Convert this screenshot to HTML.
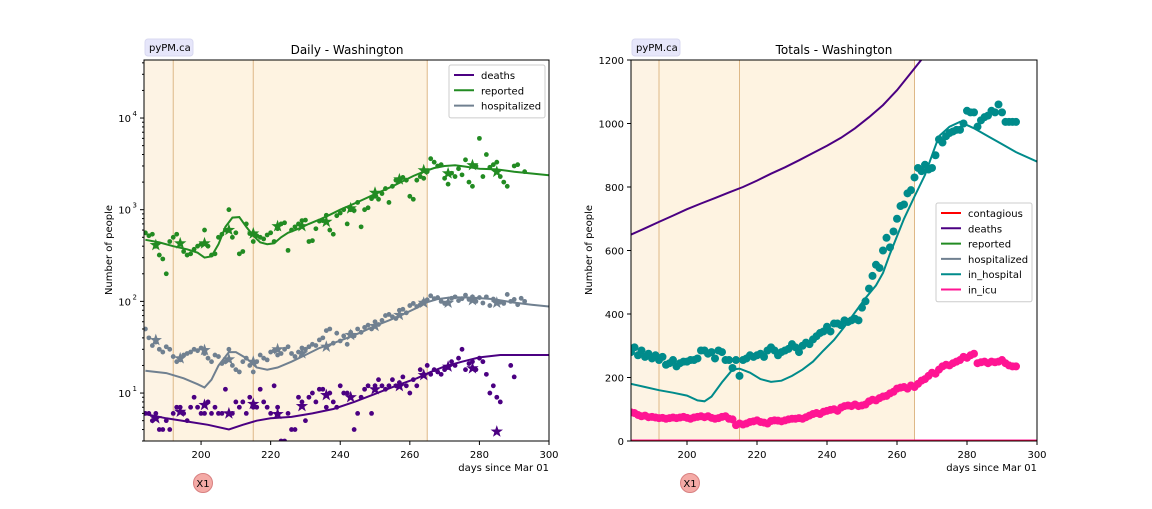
<!DOCTYPE html>
<html><head><meta charset="utf-8"><style>
body{margin:0;background:#fff;width:1152px;height:504px;overflow:hidden;font-family:"Liberation Sans","DejaVu Sans",sans-serif}
svg text{font-family:"DejaVu Sans","Liberation Sans",sans-serif}
</style></head><body>
<svg id="c" width="1152" height="504" xmlns="http://www.w3.org/2000/svg"></svg>
<script>
// ---- data ----
const dailyDays = []; for (let d = 184; d <= 293; d++) dailyDays.push(d);
const reportedDots = [560,520,540,400,320,290,200, 450,500,540,420,350,320,330, 370,400,420,600,400,320,330, 500,540,600,1000,500,560,330, 350,700,550,450,520,500,480, 530,560,450,620,700,720,360, 600,650,700,760,770,450,460, 620,750,760,870,600,540,860, 920,1000,700,1000,980,1200,650, 1000,1050,1320,1400,1300,1500,1700, 1200,1800,2100,2150,2250,2100,1400, 1300,2100,2300,2200,2600,3600,3300, 3000,3100,2200,1900,2500,2300,2800, 2400,3500,2000,1800,3000,6000,2300, 4000,2900,3100,3300,2300,2000,1800, null,3000,3100,null,2600];
const hospDots = [50,40,33,36,30,28,32, 30,25,22,23,26,27,28, 30,29,31,27,24,22,26, 25,21,22,30,20,18,17, 22,24,20,17,22,26,24, 23,28,29,26,27,30,32, 27,25,28,31,30,32,34, 33,38,40,48,50,35,45, 37,42,34,46,42,50,46, 52,55,50,60,56,62,70, 72,68,65,80,82,75,90, 95,88,92,100,104,115,107, 110,100,95,98,108,112,102, 107,117,105,112,100,110,96, 112,90,106,100,98,95,119, 100,105,92,108,100];
const deathDots = [6,6,5,6,4,4,5, 4,6,7,7,6,5,7, 9,7,6,6,8,6,7, 6,6,11,6,6,8,7, 8,6,9,7,7,11,8, 7,6,12,7,3,3,6, 4,4,9,8,5,9,10, 8,11,11,7,10,8,7, 12,10,10,9,4,6,9, 11,12,6,12,14,12,11, 12,14,12,13,15,12,10, 14,12,18,16,20,16,18, 17,16,18,19,22,20,24, 30,18,21,22,18,24,22, 16,10,12,9,8,null,null, 20,15,null,null,null];
const starDays = [187,194,201,208,215,222,229,236,243,250,257,264,271,278,285];
const reportedStars = [411,429,429,600,550,660,660,738,1033,1528,2140,2690,2490,3060,2590];
const hospStars = [37.8,23.9,29.4,23.3,21.9,30,27.1,32,43,53.9,71,96.6,96.6,103,96.6];
const deathStars = [5.3,6.25,7.4,6.0,7.6,5.9,7.2,9.5,9.0,11,11.9,15.7,19.4,18.6,3.8];
const repLineDays = [184,188,192,196,199,201,203,205,207,209,211,213,215,217,219,221,223,225,228,231,234,237,240,243,246,249,252,255,258,261,264,267,270,273,276,280,285,290,295,300];
const repLineVals = [470,440,400,370,340,300,310,420,650,820,830,650,520,440,420,430,500,560,620,700,780,880,1000,1120,1260,1420,1600,1800,2050,2330,2600,2850,3000,3050,2950,2800,2750,2600,2480,2380];
const hospLineDays = [184,190,195,199,201,203,205,208,210,213,216,219,222,226,230,234,238,242,246,250,254,258,262,265,268,272,278,284,290,295,300];
const hospLineVals = [17.5,16.5,14.5,12.5,11.5,14,20,28,28,24,19,18,19,22,26,31,35,40,46,54,62,72,85,98,106,111,110,106,97,92,88];
const deathLineDays = [184,190,196,202,208,212,216,220,226,232,238,244,250,256,262,266,270,275,280,286,300];
const deathLineVals = [5.9,5.3,4.9,4.5,4.0,4.5,5.0,5.3,5.5,6.0,6.7,8,9.8,12,14.5,17,19.5,22,24.5,26,26];
const inHospDots = [280,295,270,285,265,275,260, 270,255,265,240,245,255,235, 245,250,250,255,255,260,285, 285,275,280,260,285,280,255, 255,230,255,205,255,260,270, 265,270,275,265,285,295,285, 270,280,285,290,305,295,280, 300,310,305,320,330,340,345, 360,345,370,370,365,380,375, 380,385,380,420,440,480,520, 555,545,600,640,610,660,700, 740,745,780,790,830,860,850, 870,855,860,900,950,940,960, 970,975,980,980,1000,1040,1035, 1035,990,1010,1020,1025,1040,1035, 1060,1035,1005,1005,1005,1005];
const icuDots = [90,88,82,78,80,75,76, 74,72,73,70,72,74,72, 74,76,73,70,74,76,78, 75,78,73,70,72,76,78, 70,68,50,55,52,55,60, 62,65,60,58,55,63,65, 64,62,65,68,70,70,72, 70,75,80,85,88,85,92, 95,98,100,95,105,110,112, 110,115,110,112,115,125,130, 128,135,140,142,150,155,165, 168,170,165,175,170,180,190, 195,205,215,212,225,235,240, 238,245,250,255,265,262,270, 275,245,248,250,245,250,248, 250,255,245,238,235,235];
const totDeathDays = [184,188,192,196,200,204,208,212,216,220,224,228,232,236,240,244,248,252,256,260,264,268,272];
const totDeathVals = [650,670,690,710,730,748,765,783,800,820,842,862,884,907,930,955,985,1020,1058,1105,1160,1215,1280];
const inHospLineDays = [184,188,192,196,200,203,205,207,210,213,215,218,221,224,227,230,233,236,239,242,245,248,251,254,256,258,260,262,265,268,270,272,275,278,282,286,290,294,300];
const inHospLineVals = [180,170,160,152,143,128,125,140,185,225,228,215,195,186,190,205,225,250,285,318,360,405,450,490,529,590,645,700,770,838,900,960,990,1005,985,960,935,910,880];
const xTicks = [200,220,240,260,280,300];
const rightYTicks = [0,200,400,600,800,1000,1200];

// ---- helpers ----
const svg = document.getElementById('c');
const NS = 'http://www.w3.org/2000/svg';
function mk(tag, attrs, parent) {
  const e = document.createElementNS(NS, tag);
  for (const k in attrs) e.setAttribute(k, attrs[k]);
  (parent || svg).appendChild(e);
  return e;
}
const L = {x0:144, x1:549, y0:60, y1:441, dmin:183.6, dmax:300};
const R = {x0:631, x1:1037, y0:60, y1:441, dmin:184, dmax:300};
const lx = d => L.x0 + (d - L.dmin) / (L.dmax - L.dmin) * (L.x1 - L.x0);
const rx = d => R.x0 + (d - R.dmin) / (R.dmax - R.dmin) * (R.x1 - R.x0);
const LOGMIN = 0.477, LOGMAX = 4.633;
const ly = v => L.y1 - (Math.log10(v) - LOGMIN) / (LOGMAX - LOGMIN) * (L.y1 - L.y0);
const ry = v => R.y1 - v / 1200 * (R.y1 - R.y0);
const C = {deaths:'#4b0082', reported:'#228b22', hosp:'#708090', inh:'#008b8b', icu:'#ff1493', cont:'#ff0000'};

function star(cx, cy, r) {
  let p = [];
  for (let i = 0; i < 10; i++) {
    const a = -Math.PI/2 + i*Math.PI/5, rr = i%2 ? r*0.4 : r;
    p.push((cx + rr*Math.cos(a)).toFixed(1) + ',' + (cy + rr*Math.sin(a)).toFixed(1));
  }
  return p.join(' ');
}

function panel(P, xf, id) {
  const g = mk('g', {});
  
  
  const clip = mk('clipPath', {id: id + 'clip'}, g);
  mk('rect', {x:P.x0, y:P.y0, width:P.x1-P.x0, height:P.y1-P.y0}, clip);
  const s1 = mk('rect', {x:P.x0, y:P.y0, width:xf(192)-P.x0, height:P.y1-P.y0, fill:'#fdf3e4'}, g);
  
  
  const s2 = mk('rect', {x:xf(192), y:P.y0, width:xf(265)-xf(192), height:P.y1-P.y0, fill:'#fef3e1'}, g);
  
  
  [192,215,265].forEach(d => {
    const l = mk('line', {x1:xf(d), x2:xf(d), y1:P.y0, y2:P.y1, stroke:'#deb887', 'stroke-width':1}, g);
    
    
  });
  const plot = mk('g', {'clip-path':'url(#' + id + 'clip)'}, g);
  return {g, plot};
}
function line(parent, days, vals, xf, yf, col, name, w) {
  const pts = days.map((d,i) => xf(d).toFixed(1) + ',' + yf(vals[i]).toFixed(1)).join(' ');
  const p = mk('polyline', {points:pts, fill:'none', stroke:col, 'stroke-width':w||2}, parent);
  
  
}
function dots(parent, days, vals, xf, yf, col, r, name) {
  days.forEach((d,i) => {
    if (vals[i] == null) return;
    const c = mk('circle', {cx:xf(d), cy:yf(vals[i]), r:r, fill:col}, parent);
    
    
  });
}
function stars(parent, days, vals, xf, yf, col, name) {
  days.forEach((d,i) => {
    const s = mk('polygon', {points:star(xf(d), yf(vals[i]), 6.5), fill:col}, parent);
    
    
  });
}
function frame(P, g) {
  const f = mk('rect', {x:P.x0, y:P.y0, width:P.x1-P.x0, height:P.y1-P.y0, fill:'none', stroke:'#000', 'stroke-width':1}, g);
  
  
}
function txt(s, x, y, attrs, name, parent) {
  const t = mk('text', Object.assign({x:x, y:y, 'font-size':11, fill:'#000'}, attrs||{}), parent);
  t.textContent = s;
  
  
  return t;
}
function xAxis(P, xf, g) {
  xTicks.forEach(d => {
    mk('line', {x1:xf(d), x2:xf(d), y1:P.y1, y2:P.y1+4, stroke:'#000'}, g);
    txt(String(d), xf(d), P.y1+17, {'text-anchor':'middle', 'font-size':10}, 'x-tick-label', g);
  });
  txt('days since Mar 01', P.x1, P.y1+30, {'text-anchor':'end', 'font-size':10}, 'x-axis-title', g);
}
function legend(x, y, w, items, name) {
  const g = mk('g', {});
  
  
  mk('rect', {x:x, y:y, width:w, height:items.length*15.3+7, fill:'#fff', 'fill-opacity':0.85, stroke:'#ccc', rx:2}, g);
  items.forEach((it,i) => {
    const yy = y + 10 + i*15.3;
    mk('line', {x1:x+5, x2:x+25, y1:yy, y2:yy, stroke:it[1], 'stroke-width':2}, g);
    txt(it[0], x+32, yy+4, {'font-size':10}, 'legend-entry', g);
  });
}
function badge(x, name) {
  const g = mk('g', {});
  
  
  mk('rect', {x:x, y:39, width:48, height:17, rx:3, fill:'#e6e6fa', stroke:'#d8d8f0'}, g);
  txt('pyPM.ca', x+4, 51, {'font-size':10}, 'badge-text', g);
}
function x1btn(cx, name) {
  const g = mk('g', {});
  
  
  mk('circle', {cx:cx, cy:483, r:9.5, fill:'#f4aaa6', stroke:'#d88080'}, g);
  txt('X1', cx, 487, {'text-anchor':'middle', 'font-size':10}, 'x1-label', g);
}

// ---- left panel ----
const A = panel(L, lx, 'daily');
dots(A.plot, dailyDays, reportedDots, lx, ly, C.reported, 2.4, 'reported-dot');
dots(A.plot, dailyDays, hospDots, lx, ly, C.hosp, 2.4, 'hospitalized-dot');
dots(A.plot, dailyDays, deathDots, lx, ly, C.deaths, 2.4, 'deaths-dot');
line(A.plot, repLineDays, repLineVals, lx, ly, C.reported, 'reported-line');
line(A.plot, hospLineDays, hospLineVals, lx, ly, C.hosp, 'hospitalized-line');
line(A.plot, deathLineDays, deathLineVals, lx, ly, C.deaths, 'deaths-line');
stars(A.plot, starDays, reportedStars, lx, ly, C.reported, 'reported-weekly-star');
stars(A.plot, starDays, hospStars, lx, ly, C.hosp, 'hospitalized-weekly-star');
stars(A.plot, starDays, deathStars, lx, ly, C.deaths, 'deaths-weekly-star');
frame(L, A.g);
for (let e = 0; e <= 4; e++) for (let m = 1; m <= 9; m++) {
  const v = m * Math.pow(10, e);
  const y = ly(v);
  if (y < L.y0 - 0.5 || y > L.y1 + 0.5) continue;
  mk('line', {x1:L.x0-(m==1?4:2), x2:L.x0, y1:y, y2:y, stroke:'#000'}, A.g);
  if (m == 1) {
    const t = txt('10', L.x0-13, y+4, {'text-anchor':'end', 'font-size':10}, 'y-tick-label', A.g);
    txt(String(e), L.x0-7, y-2, {'text-anchor':'end', 'font-size':7}, 'y-tick-exponent', A.g);
  }
}
xAxis(L, lx, A.g);
txt('Number of people', 112, 250, {'text-anchor':'middle', 'font-size':10, transform:'rotate(-90 112 250)'}, 'y-axis-title', A.g);
txt('Daily - Washington', 347, 54, {'text-anchor':'middle', 'font-size':12}, 'chart-title', A.g);
legend(449, 65, 96, [['deaths',C.deaths],['reported',C.reported],['hospitalized',C.hosp]], 'daily-legend');
badge(145, 'pypm-badge-left');
x1btn(203, 'x1-button-left');

// ---- right panel ----
const B = panel(R, rx, 'totals');
line(B.plot, totDeathDays, totDeathVals, rx, ry, C.deaths, 'total-deaths-line');
dots(B.plot, dailyDays.concat([294]), inHospDots, rx, ry, C.inh, 4, 'in-hospital-dot');
dots(B.plot, dailyDays.concat([294]), icuDots, rx, ry, C.icu, 4, 'in-icu-dot');
line(B.plot, inHospLineDays, inHospLineVals, rx, ry, C.inh, 'in-hospital-line');
line(B.plot, [184,300], [0,0], rx, ry, C.icu, 'in-icu-line', 3);
line(B.plot, [184,300], [0,0], rx, ry, C.cont, 'contagious-line', 1.5);
frame(R, B.g);
rightYTicks.forEach(v => {
  mk('line', {x1:R.x0-4, x2:R.x0, y1:ry(v), y2:ry(v), stroke:'#000'}, B.g);
  txt(String(v), R.x0-7, ry(v)+4, {'text-anchor':'end', 'font-size':10}, 'y-tick-label', B.g);
});
xAxis(R, rx, B.g);
txt('Number of people', 592, 250, {'text-anchor':'middle', 'font-size':10, transform:'rotate(-90 592 250)'}, 'y-axis-title', B.g);
txt('Totals - Washington', 834, 54, {'text-anchor':'middle', 'font-size':12}, 'chart-title', B.g);
legend(936, 203, 96, [['contagious',C.cont],['deaths',C.deaths],['reported',C.reported],['hospitalized',C.hosp],['in_hospital',C.inh],['in_icu',C.icu]], 'totals-legend');
badge(632, 'pypm-badge-right');
x1btn(690, 'x1-button-right');
</script>
</body></html>
